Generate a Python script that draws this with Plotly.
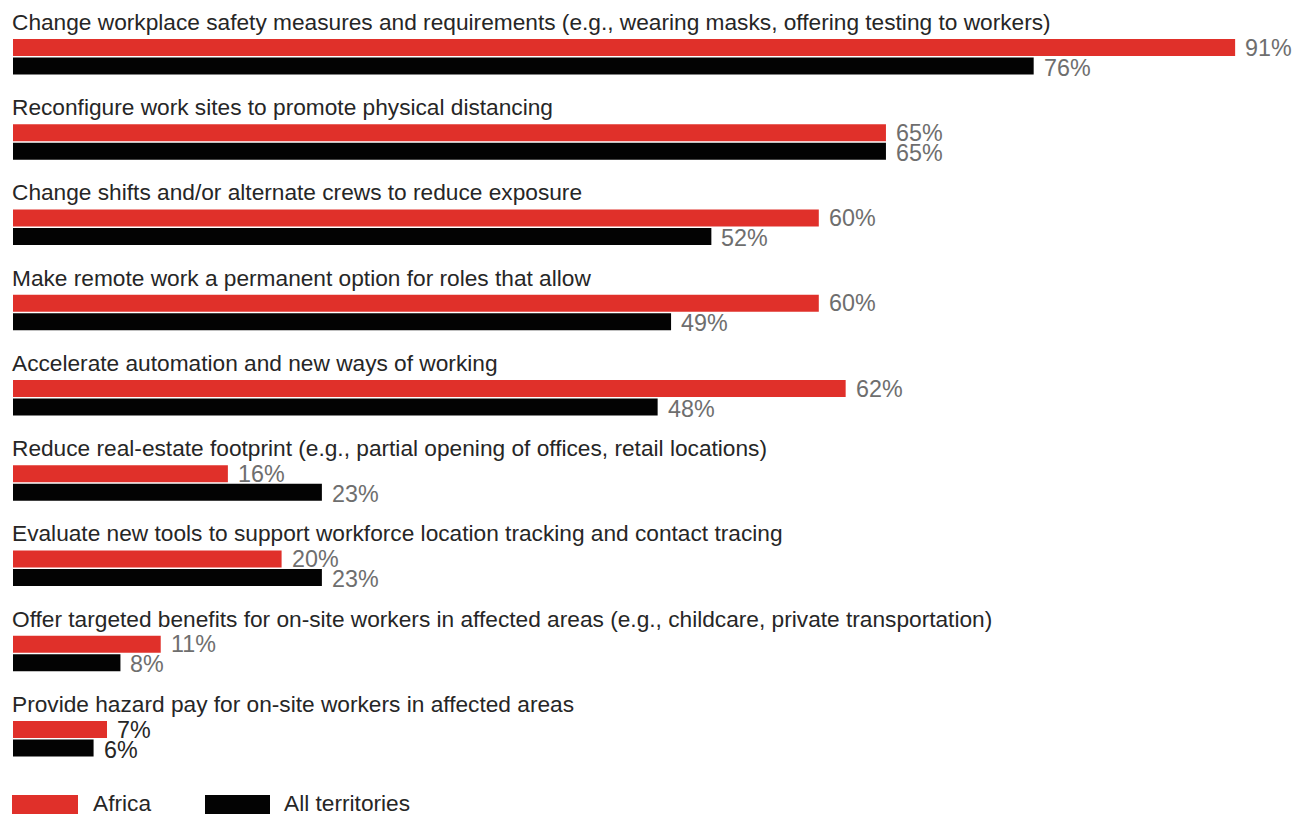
import plotly.graph_objects as go
import numpy as np

categories = [
    "Change workplace safety measures and requirements (e.g., wearing masks, offering testing to workers)",
    "Reconfigure work sites to promote physical distancing",
    "Change shifts and/or alternate crews to reduce exposure",
    "Make remote work a permanent option for roles that allow",
    "Accelerate automation and new ways of working",
    "Reduce real-estate footprint (e.g., partial opening of offices, retail locations)",
    "Evaluate new tools to support workforce location tracking and contact tracing",
    "Offer targeted benefits for on-site workers in affected areas (e.g., childcare, private transportation)",
    "Provide hazard pay for on-site workers in affected areas",
]
africa = [91, 65, 60, 60, 62, 16, 20, 11, 7]
all_territories = [76, 65, 52, 49, 48, 23, 23, 8, 6]
series_names = ["Africa", "All territories"]

RED = "#e0302a"
BLACK = "#030303"
LABEL_GREY = "#6e6e6e"
TEXT_DARK = "#262626"
FONT = "Liberation Sans, Arial, Helvetica, sans-serif"
CAT_SIZE = 22.7
VAL_SIZE = 23.3

W, H = 1294, 814
PX_PER_GROUP = 85.25
GROUP0_PX = 56.75          # pixel centre of first group
BAR_W = 17 / PX_PER_GROUP
GAP = 0.75 / PX_PER_GROUP

pos = np.arange(len(categories))

fig = go.Figure()
fig.add_trace(go.Bar(
    y=pos, x=africa, orientation="h", name=series_names[0],
    marker=dict(color=RED, line=dict(width=0)),
    width=BAR_W, offset=-(BAR_W + GAP), hoverinfo="x+name",
))
fig.add_trace(go.Bar(
    y=pos, x=all_territories, orientation="h", name=series_names[1],
    marker=dict(color=BLACK, line=dict(width=0)),
    width=BAR_W, offset=GAP, hoverinfo="x+name",
))

annotations = []
for i, cat in enumerate(categories):
    annotations.append(dict(
        x=0, y=i - 0.41, xref="x", yref="y", text=cat, showarrow=False,
        xanchor="left", yanchor="middle", xshift=-3,
        font=dict(family=FONT, size=CAT_SIZE, color=TEXT_DARK),
    ))
    col = LABEL_GREY if i < len(categories) - 1 else TEXT_DARK
    for val, off in [
        (africa[i], -(BAR_W / 2 + GAP)),
        (all_territories[i], BAR_W / 2 + GAP + 0.02),
    ]:
        annotations.append(dict(
            x=val, y=i + off, xref="x", yref="y", text=f"{val}%",
            showarrow=False, xanchor="left", yanchor="middle", xshift=8,
            font=dict(family=FONT, size=VAL_SIZE, color=col),
        ))

# legend drawn as swatches + labels along the bottom
shapes = []
for (x0, x1, col, label, tx) in [
    (12, 78, RED, series_names[0], 91),
    (205, 270, BLACK, series_names[1], 282),
]:
    shapes.append(dict(type="rect", xref="paper", yref="paper",
                       x0=x0 / W, x1=x1 / W, y0=1 - 814 / H, y1=1 - 795 / H,
                       fillcolor=col, line=dict(width=0)))
    annotations.append(dict(x=tx / W, y=1 - 803 / H, xref="paper", yref="paper",
                            text=label, showarrow=False, xanchor="left",
                            yanchor="middle",
                            font=dict(family=FONT, size=CAT_SIZE, color=TEXT_DARK)))

px_per_pct = 13.43
x_left = -13 / px_per_pct
x_right = (W - 13) / px_per_pct
y_top = -GROUP0_PX / PX_PER_GROUP
y_bottom = (H - GROUP0_PX) / PX_PER_GROUP

fig.update_layout(
    width=W, height=H,
    margin=dict(l=0, r=0, t=0, b=0),
    paper_bgcolor="white", plot_bgcolor="white",
    showlegend=False, barmode="overlay",
    xaxis=dict(range=[x_left, x_right], visible=False, fixedrange=True),
    yaxis=dict(range=[y_bottom, y_top], visible=False, fixedrange=True),
    annotations=annotations, shapes=shapes,
    font=dict(family=FONT),
)

fig.write_html("out.html")
